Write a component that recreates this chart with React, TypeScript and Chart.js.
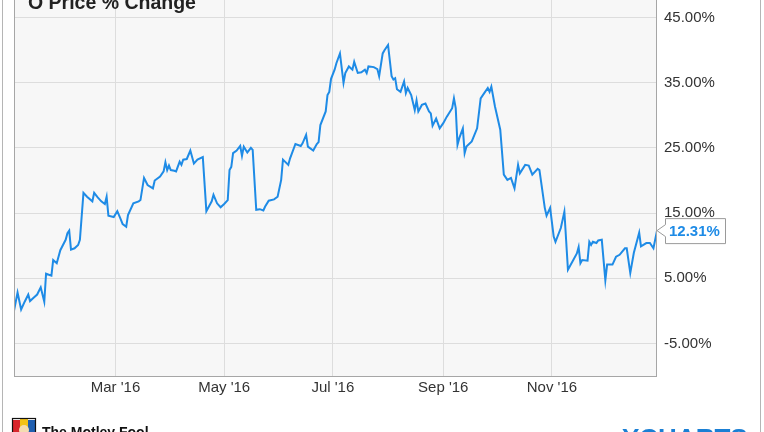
import React, { useEffect, useRef } from "react";
import { Chart, registerables } from "chart.js";

Chart.register(...registerables);

// Day of year 2016 (Jan 1 = 0) for each sampled trading day
const days = [
  3, 5, 7, 9, 11, 12, 14, 16, 18, 20, 21, 24, 25, 27, 29, 32, 33, 34, 35, 37,
  39, 40, 42, 44, 47, 48, 50, 52, 54, 55, 56, 59, 61, 63, 64, 66, 67, 70, 73, 74,
  76, 78, 81, 82, 85, 87, 88, 89, 90, 91, 93, 94, 96, 97, 98, 100, 102, 104, 106, 109,
  111, 114, 115, 117, 119, 121, 123, 124, 125, 126, 128, 130, 131, 132, 134, 136, 137, 139, 141, 143,
  144, 146, 149, 151, 153, 154, 157, 158, 161, 164, 165, 167, 168, 171, 173, 174, 175, 178, 179, 180,
  181, 183, 184, 186, 188, 189, 191, 193, 194, 196, 198, 200, 201, 202, 205, 207, 208, 210, 211, 213,
  215, 216, 217, 218, 220, 222, 223, 224, 226, 228, 229, 230, 232, 234, 236, 237, 238, 240, 242, 244,
  246, 249, 250, 251, 252, 253, 255, 256, 257, 260, 263, 265, 267, 269, 270, 271, 273, 276, 278, 280,
  282, 284, 286, 287, 290, 292, 294, 297, 298, 301, 302, 304, 306, 307, 310, 312, 314, 317, 319, 320,
  321, 322, 325, 326, 327, 328, 330, 331, 333, 335, 336, 339, 341, 343, 346, 347, 349, 351, 354, 355,
  358, 360, 362, 364,
];

// Price % change for each sampled day
const values = [
  0.0, 2.8, 0.2, 1.4, 2.5, 1.5, 2.0, 2.5, 3.6, 1.4, 5.7, 5.4, 7.8, 7.3, 9.3, 10.9, 11.9, 12.3, 9.4, 9.6,
  10.1, 10.9, 18.1, 17.5, 16.8, 18.1, 17.4, 16.8, 16.4, 17.5, 14.6, 14.4, 15.3, 14.0, 13.3, 12.9, 14.7, 16.5, 16.8, 17.0,
  20.4, 19.3, 18.8, 20.0, 20.6, 21.4, 22.8, 21.6, 22.3, 21.6, 21.5, 21.4, 22.9, 22.4, 23.2, 23.3, 24.6, 22.6, 23.2, 23.6,
  15.3, 16.8, 17.8, 16.5, 15.9, 16.4, 17.0, 21.6, 22.1, 24.2, 24.6, 25.3, 23.8, 25.2, 24.3, 25.0, 24.7, 15.5, 15.6, 15.4,
  16.0, 16.9, 17.1, 17.5, 20.1, 23.2, 22.4, 23.4, 25.6, 25.3, 25.7, 27.0, 25.2, 24.6, 25.6, 25.9, 28.5, 30.6, 33.1, 33.6,
  35.6, 37.0, 38.0, 39.5, 35.0, 36.5, 37.5, 37.0, 38.2, 36.5, 36.6, 37.0, 36.5, 37.5, 37.4, 37.1, 36.0, 39.5, 40.0, 40.8,
  36.0, 35.5, 35.7, 34.0, 33.6, 35.2, 33.4, 34.2, 33.1, 30.8, 32.3, 30.6, 31.6, 31.8, 30.6, 30.3, 28.4, 29.5, 28.0, 28.8,
  29.8, 31.1, 32.6, 31.1, 25.5, 26.5, 28.0, 24.2, 25.2, 26.0, 28.0, 32.6, 33.4, 34.2, 33.6, 34.4, 31.4, 27.8, 20.9, 20.1,
  20.4, 18.8, 22.4, 21.1, 22.4, 22.3, 20.9, 21.8, 21.6, 15.8, 14.6, 15.8, 11.4, 10.6, 12.7, 15.2, 6.3, 7.8, 8.8, 9.8,
  7.3, 7.8, 7.7, 10.6, 10.1, 10.6, 10.4, 10.8, 10.9, 4.7, 7.1, 7.1, 8.3, 8.6, 9.6, 9.6, 5.8, 8.9, 12.0, 9.9,
  10.4, 10.4, 9.6, 12.31,
];

const xTickDays = [60, 121, 182, 244, 305];
const xTickLabels = ["Mar '16", "May '16", "Jul '16", "Sep '16", "Nov '16"];
const yTickValues = [-5, 5, 15, 25, 35, 45];
const titleText = "O Price % Change";
const lastValueLabel = "12.31%";
const footerLeft = "The Motley Fool";
const footerRight = "YCHARTS";

const LINE_COLOR = "#1e8be6";
const FONT = "'Liberation Sans', Arial, sans-serif";
const OFF = 20;

export default function App() {
  const ref = useRef<HTMLCanvasElement>(null);

  useEffect(() => {
    document.body.style.margin = "0";
    const canvas = ref.current;
    if (!canvas) return;

    const bgPlugin = {
      id: "bg",
      beforeDraw(chart: any) {
        const { ctx, chartArea: a } = chart;
        ctx.save();
        ctx.fillStyle = "#ffffff";
        ctx.fillRect(0, 0, chart.width, chart.height);
        ctx.fillStyle = "#f7f7f7";
        ctx.fillRect(a.left, a.top, a.right - a.left, a.bottom - a.top);
        ctx.restore();
      },
    };

    const overlayPlugin = {
      id: "overlay",
      afterDraw(chart: any) {
        const { ctx, chartArea: a } = chart;
        ctx.save();
        // plot frame
        ctx.strokeStyle = "#a6a6a6";
        ctx.lineWidth = 1;
        ctx.strokeRect(a.left + 0.5, a.top + 0.5, a.right - a.left - 1, a.bottom - a.top);
        // outer borders
        ctx.strokeStyle = "#b5b5b5";
        ctx.beginPath();
        ctx.moveTo(2.5, 0);
        ctx.lineTo(2.5, chart.height);
        ctx.moveTo(760.5, 0);
        ctx.lineTo(760.5, chart.height);
        ctx.stroke();

        // title
        ctx.fillStyle = "#222";
        ctx.font = `bold 19.5px ${FONT}`;
        ctx.textBaseline = "alphabetic";
        ctx.textAlign = "left";
        ctx.fillText(titleText, 28, OFF + 9);

        // last value label
        const meta = chart.getDatasetMeta(0);
        const last = meta.data[meta.data.length - 1];
        const px = last.x;
        const py = last.y;
        const bx = px + 8;
        const bw = 60;
        const bh = 25;
        const by = py - bh / 2;
        ctx.beginPath();
        ctx.moveTo(bx + 0.5, by + 0.5);
        ctx.lineTo(bx + bw + 0.5, by + 0.5);
        ctx.lineTo(bx + bw + 0.5, by + bh + 0.5);
        ctx.lineTo(bx + 0.5, by + bh + 0.5);
        ctx.lineTo(bx + 0.5, py + 6);
        ctx.lineTo(px, py);
        ctx.lineTo(bx + 0.5, py - 6);
        ctx.closePath();
        ctx.fillStyle = "#ffffff";
        ctx.fill();
        ctx.strokeStyle = "#9a9a9a";
        ctx.stroke();
        ctx.fillStyle = LINE_COLOR;
        ctx.font = `bold 15px ${FONT}`;
        ctx.textBaseline = "middle";
        ctx.fillText(lastValueLabel, bx + 4, py + 1);

        // footer: Motley Fool logo
        const ly = OFF + 418;
        ctx.fillStyle = "#d8262c";
        ctx.fillRect(13, ly + 2, 7, 14);
        ctx.fillStyle = "#f2c318";
        ctx.fillRect(20, ly, 8, 16);
        ctx.fillStyle = "#1f5fb0";
        ctx.fillRect(28, ly + 2, 7, 14);
        ctx.fillStyle = "#f4dcb0";
        ctx.beginPath();
        ctx.arc(24, ly + 12, 5, 0, Math.PI * 2);
        ctx.fill();
        ctx.strokeStyle = "#111";
        ctx.lineWidth = 1.2;
        ctx.strokeRect(12.5, ly + 0.5, 23, 16);
        ctx.fillStyle = "#111";
        ctx.font = `bold 14px ${FONT}`;
        ctx.textBaseline = "alphabetic";
        ctx.fillText(footerLeft, 42, OFF + 437);

        // footer: YCHARTS
        ctx.fillStyle = "#1a7fd4";
        ctx.font = `bold 26px ${FONT}`;
        ctx.fillText(footerRight, 622, OFF + 447);
        ctx.restore();
      },
    };

    const chart = new Chart(canvas, {
      type: "line",
      data: {
        datasets: [
          {
            data: days.map((d, i) => ({ x: d, y: values[i] })),
            borderColor: LINE_COLOR,
            borderWidth: 2,
            pointRadius: 0,
            fill: false,
            tension: 0,
          },
        ],
      },
      options: {
        animation: false,
        responsive: false,
        maintainAspectRatio: false,
        layout: { padding: { left: 14, top: 5, right: 0, bottom: 0 } },
        plugins: {
          legend: { display: false },
          tooltip: { enabled: false },
          title: { display: false },
        },
        scales: {
          x: {
            type: "linear",
            min: 3,
            max: 364,
            afterBuildTicks: (s: any) => {
              s.ticks = xTickDays.map((v) => ({ value: v }));
            },
            afterFit: (s: any) => {
              s.height = 56;
              s.paddingLeft = 0;
              s.paddingRight = 0;
              s.paddingTop = 0;
              s.paddingBottom = 0;
            },
            ticks: {
              autoSkip: false,
              maxRotation: 0,
              padding: 3,
              color: "#333",
              font: { family: FONT, size: 15 },
              callback: (_v: any, i: number) => xTickLabels[i],
            },
            grid: { color: "#dddddd", drawTicks: false, lineWidth: 1 },
            border: { display: false },
          },
          y: {
            position: "right",
            min: -10,
            max: 50,
            afterBuildTicks: (s: any) => {
              s.ticks = yTickValues.map((v) => ({ value: v }));
            },
            afterFit: (s: any) => {
              s.width = 107;
              s.paddingTop = 0;
              s.paddingBottom = 0;
              s.paddingLeft = 0;
              s.paddingRight = 0;
            },
            ticks: {
              padding: 7,
              color: "#333",
              font: { family: FONT, size: 15 },
              callback: (v: any) => Number(v).toFixed(2) + "%",
            },
            grid: { color: "#dddddd", drawTicks: false, lineWidth: 1 },
            border: { display: false },
          },
        },
      },
      plugins: [bgPlugin, overlayPlugin],
    });

    return () => chart.destroy();
  }, []);

  return (
    <div
      style={{
        width: 764,
        height: 432,
        overflow: "hidden",
        position: "relative",
        background: "#fff",
      }}
    >
      <canvas
        ref={ref}
        width={764}
        height={432 + OFF}
        style={{ position: "absolute", left: 0, top: -OFF, width: 764, height: 432 + OFF }}
      />
    </div>
  );
}
